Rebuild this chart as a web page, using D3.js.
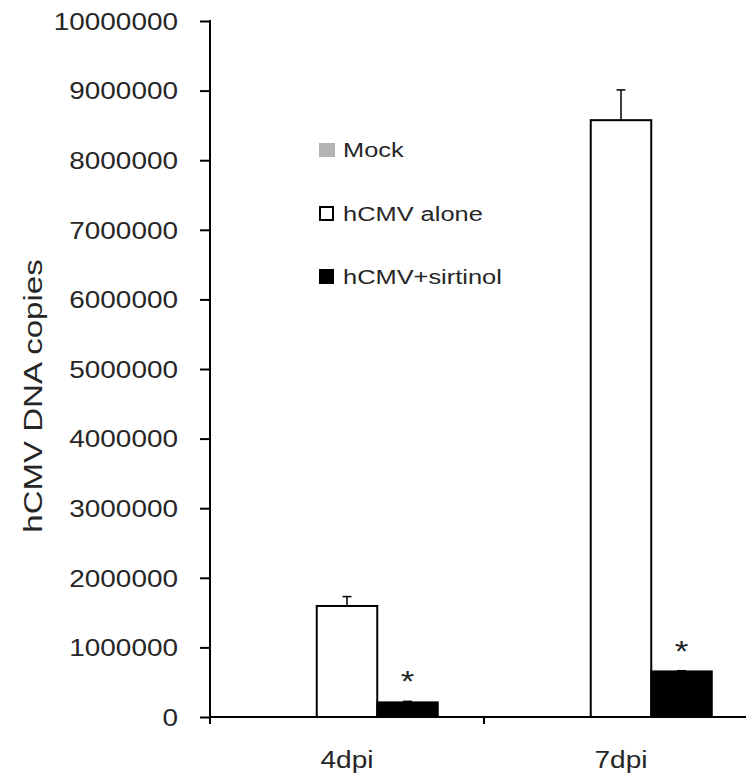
<!DOCTYPE html>
<html>
<head>
<meta charset="utf-8">
<script src="https://cdn.jsdelivr.net/npm/d3@7"></script>
<style>
  html, body { margin: 0; padding: 0; background: #fff; }
  svg { display: block; }
  text { font-family: "Liberation Sans", Arial, sans-serif; fill: #262626; }
</style>
</head>
<body>
<svg id="chart" width="746" height="777"></svg>
<script>
// ---- data ----
const categories = ["4dpi", "7dpi"];
const seriesNames = ["Mock", "hCMV alone", "hCMV+sirtinol"];
const mockValues = [0, 0];
const aloneValues = [1595000, 8575000];
const sirtinolValues = [210000, 655000];
const mockErrors = [0, 0];
const aloneErrors = [135000, 435000];
const sirtinolErrors = [15000, 10000];
const sirtinolSignificance = ["*", "*"];
const yTicks = [0, 1000000, 2000000, 3000000, 4000000, 5000000, 6000000, 7000000, 8000000, 9000000, 10000000];
const yLabel = "hCMV DNA copies";

const seriesFill = ["#b3b3b3", "#ffffff", "#000000"];
const seriesStroke = ["none", "#000", "#000"];

const svg = d3.select("#chart");

const y = d3.scaleLinear().domain([0, 10000000]).range([717, 21]);
const x0 = d3.scaleBand().domain(categories).range([210, 758]).paddingInner(0).paddingOuter(0);
const x1 = d3.scaleBand().domain(seriesNames).range([0, x0.bandwidth()]).paddingInner(0).paddingOuter(0.764);

// stretched text helper
function sText(g, x, yy, str, size, sx, anchor, rot) {
  const t = g.append("text")
    .attr("transform", `translate(${x},${yy})` + (rot ? ` rotate(${rot})` : "") + ` scale(${sx},1)`)
    .attr("font-size", size)
    .attr("text-anchor", anchor)
    .text(str);
  return t;
}

// ---- bars ----
const rows = categories.map((c, i) => ({
  cat: c,
  vals: [
    { s: 0, v: mockValues[i], e: mockErrors[i] },
    { s: 1, v: aloneValues[i], e: aloneErrors[i] },
    { s: 2, v: sirtinolValues[i], e: sirtinolErrors[i], sig: sirtinolSignificance[i] }
  ]
}));

const groups = svg.selectAll("g.grp").data(rows).enter().append("g")
  .attr("class", "grp")
  .attr("transform", d => `translate(${x0(d.cat)},0)`);

// error bars (drawn first so bar covers base)
groups.each(function(d) {
  const g = d3.select(this);
  d.vals.forEach(b => {
    if (b.e > 0) {
      const cx = x1(seriesNames[b.s]) + x1.bandwidth() / 2;
      g.append("line").attr("x1", cx).attr("x2", cx)
        .attr("y1", y(b.v)).attr("y2", y(b.v + b.e))
        .attr("stroke", "#000").attr("stroke-width", 1.5);
      g.append("line").attr("x1", cx - 4.5).attr("x2", cx + 4.5)
        .attr("y1", y(b.v + b.e)).attr("y2", y(b.v + b.e))
        .attr("stroke", "#000").attr("stroke-width", 1.5);
    }
  });
});

groups.selectAll("rect").data(d => d.vals).enter().append("rect")
  .attr("x", b => x1(seriesNames[b.s]))
  .attr("width", x1.bandwidth())
  .attr("y", b => y(b.v))
  .attr("height", b => y(0) - y(b.v))
  .attr("fill", b => seriesFill[b.s])
  .attr("stroke", b => b.v > 0 ? seriesStroke[b.s] : "none")
  .attr("stroke-width", 2);

// significance stars
groups.each(function(d) {
  const g = d3.select(this);
  d.vals.forEach(b => {
    if (b.sig) {
      const cx = x1(seriesNames[b.s]) + x1.bandwidth() / 2;
      sText(g, cx, y(b.v + b.e) - 10, b.sig, 29, 1.2, "middle");
    }
  });
});

// ---- axes ----
const yAxisG = svg.append("g").attr("transform", "translate(210,0)");
yAxisG.call(d3.axisLeft(y).tickValues(yTicks).tickSize(10).tickFormat(""));
yAxisG.select(".domain").remove();
yAxisG.selectAll(".tick line").attr("stroke", "#000").attr("stroke-width", 2);
yAxisG.append("line").attr("x1", 0).attr("x2", 0).attr("y1", y(10000000) - 1).attr("y2", 724)
  .attr("stroke", "#000").attr("stroke-width", 2);
yTicks.forEach(t => {
  sText(svg, 178, y(t) + 8.8, String(t), 24.5, 1.14, "end");
});

// x axis
svg.append("line").attr("x1", 209).attr("x2", 746).attr("y1", y(0)).attr("y2", y(0))
  .attr("stroke", "#000").attr("stroke-width", 2);
categories.forEach((c, i) => {
  if (i > 0) {
    svg.append("line").attr("x1", x0(c)).attr("x2", x0(c)).attr("y1", y(0)).attr("y2", 724)
      .attr("stroke", "#000").attr("stroke-width", 2);
  }
  sText(svg, x0(c) + x0.bandwidth() / 2, 768, c, 24, 1.17, "middle");
});

// y label
sText(svg, 42, 396, yLabel, 26, 1.27, "middle", -90);

// ---- legend ----
const legendY = [157, 221, 284];
seriesNames.forEach((s, i) => {
  const by = legendY[i];
  if (i === 0) {
    svg.append("rect").attr("x", 319).attr("y", by - 14).attr("width", 16).attr("height", 14)
      .attr("fill", seriesFill[i]);
  } else {
    svg.append("rect").attr("x", 320).attr("y", by - 14).attr("width", 13).attr("height", 13)
      .attr("fill", seriesFill[i]).attr("stroke", "#000").attr("stroke-width", 2);
  }
  sText(svg, 343, by, s, 20, 1.27, "start");
});
</script>
</body>
</html>
